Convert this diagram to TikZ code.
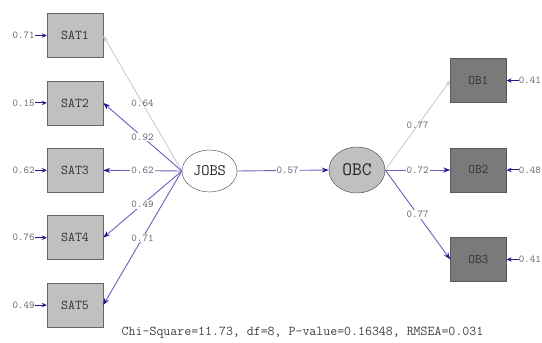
\documentclass[tikz,border=0pt]{standalone}
\usepackage{fontspec}
\usepackage{xcolor}
\usetikzlibrary{arrows.meta, positioning, shapes.geometric}

\definecolor{pathblue}{RGB}{104,96,192}
\definecolor{tipblue}{RGB}{30,28,140}
\definecolor{lightpath}{RGB}{200,200,200}
\definecolor{labelgray}{RGB}{100,100,112}
\definecolor{boxlight}{RGB}{192,192,192}
\definecolor{boxdark}{RGB}{122,122,122}

\begin{document}
\begin{tikzpicture}[
    x=1pt, y=1pt,
    node distance=23pt,
    satbox/.style={rectangle, draw=gray!80!black, fill=boxlight, minimum width=56pt, minimum height=44pt, inner sep=0pt, font=\ttfamily\fontsize{13.5}{14}\selectfont, text=black!80},
    obbox/.style={rectangle, draw=black!65, fill=boxdark, minimum width=56pt, minimum height=44pt, inner sep=0pt, font=\ttfamily\fontsize{13}{14}\selectfont, text=black!80},
    latent/.style={ellipse, draw=black!75, minimum width=55pt, minimum height=42pt, inner sep=0pt, text=black!85},
    errlabel/.style={inner sep=0pt, font=\ttfamily\fontsize{10.5}{11}\selectfont, text=labelgray},
    coef/.style={fill=white, inner sep=1pt, font=\ttfamily\fontsize{10.5}{11}\selectfont, text=labelgray},
    path/.style={draw=pathblue, line width=0.9pt, -{Stealth[length=7pt, width=5pt, color=tipblue]}},
    weakpath/.style={draw=lightpath, line width=0.8pt, -{Stealth[length=6pt, width=4pt]}},
    errpath/.style={draw=tipblue, line width=1pt, -{Stealth[length=5pt, width=4.5pt]}}
]
\useasboundingbox (0,0) rectangle (542,343);

% indicators of JOBS
\node[satbox] (sat1) at (75,307.5) {SAT1};
\node[satbox, below=of sat1] (sat2) {SAT2};
\node[satbox, below=of sat2] (sat3) {SAT3};
\node[satbox, below=of sat3] (sat4) {SAT4};
\node[satbox, below=of sat4] (sat5) {SAT5};

% latent variables
\node[latent, font=\ttfamily\fontsize{16}{16}\selectfont] (jobs) at (209.5,172) {JOBS};
\node[latent, fill=boxlight, minimum width=56pt, minimum height=46pt, font=\ttfamily\fontsize{19}{19}\selectfont] (obc) at (357,173) {OBC};

% indicators of OBC
\node[obbox, right=65pt of obc] (ob2) {OB2};
\node[obbox, above=45pt of ob2] (ob1) {OB1};
\node[obbox, below=45pt of ob2] (ob3) {OB3};

% error variances
\node[errlabel, left=12pt of sat1] (e1) {0.71};
\node[errlabel, left=12pt of sat2] (e2) {0.15};
\node[errlabel, left=12pt of sat3] (e3) {0.62};
\node[errlabel, left=12pt of sat4] (e4) {0.76};
\node[errlabel, left=12pt of sat5] (e5) {0.49};
\node[errlabel, right=12pt of ob1] (e6) {0.41};
\node[errlabel, right=12pt of ob2] (e7) {0.48};
\node[errlabel, right=12pt of ob3] (e8) {0.41};

\draw[errpath] (e1) -- (sat1);
\draw[errpath] (e2) -- (sat2);
\draw[errpath] (e3) -- (sat3);
\draw[errpath] (e4) -- (sat4);
\draw[errpath] (e5) -- (sat5);
\draw[errpath] (e6) -- (ob1);
\draw[errpath] (e7) -- (ob2);
\draw[errpath] (e8) -- (ob3);

% loadings
\draw[weakpath] (jobs.west) -- node[coef, fill=none] {0.64} (sat1.east);
\draw[path] (jobs.west) -- node[coef] {0.92} (sat2.east);
\draw[path] (jobs.west) -- node[coef] {0.62} (sat3.east);
\draw[path] (jobs.west) -- node[coef] {0.49} (sat4.east);
\draw[path] (jobs.west) -- node[coef] {0.71} (sat5.east);
\draw[path] (jobs.east) -- node[coef, pos=0.55] {0.57} (obc.west);
\draw[weakpath] (obc.east) -- node[coef, fill=none] {0.77} (ob1.west);
\draw[path] (obc.east) -- node[coef] {0.72} (ob2.west);
\draw[path] (obc.east) -- node[coef] {0.77} (ob3.west);

% fit statistics
\node[font=\ttfamily\fontsize{13.5}{14}\selectfont, text=black!75] (fit) at (302.5,10) {Chi-Square=11.73, df=8, P-value=0.16348, RMSEA=0.031};

\end{tikzpicture}
\end{document}
